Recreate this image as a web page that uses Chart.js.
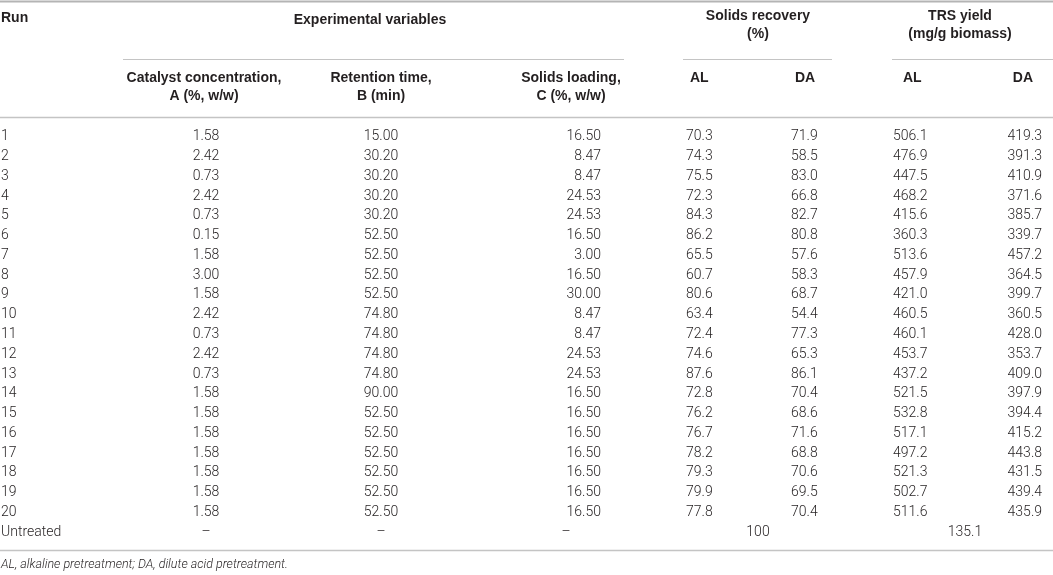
<!DOCTYPE html>
<html>
<head>
<meta charset="utf-8">
<script src="https://cdn.jsdelivr.net/npm/chart.js@4/dist/chart.umd.min.js"></script>
<style>
  html, body { margin: 0; padding: 0; background: #fff; }
  canvas { display: block; }
</style>
</head>
<body>
<canvas id="runsTable" width="1053" height="575"></canvas>
<script>
// table values, one array per column
const runs = ['1', '2', '3', '4', '5', '6', '7', '8', '9', '10', '11', '12', '13', '14', '15', '16', '17', '18', '19', '20', 'Untreated'];
const catalystConc = [1.58, 2.42, 0.73, 2.42, 0.73, 0.15, 1.58, 3.00, 1.58, 2.42, 0.73, 2.42, 0.73, 1.58, 1.58, 1.58, 1.58, 1.58, 1.58, 1.58];
const retentionTime = [15.00, 30.20, 30.20, 30.20, 30.20, 52.50, 52.50, 52.50, 52.50, 74.80, 74.80, 74.80, 74.80, 90.00, 52.50, 52.50, 52.50, 52.50, 52.50, 52.50];
const solidsLoading = [16.50, 8.47, 8.47, 24.53, 24.53, 16.50, 3.00, 16.50, 30.00, 8.47, 8.47, 24.53, 24.53, 16.50, 16.50, 16.50, 16.50, 16.50, 16.50, 16.50];
const recoveryAL = [70.3, 74.3, 75.5, 72.3, 84.3, 86.2, 65.5, 60.7, 80.6, 63.4, 72.4, 74.6, 87.6, 72.8, 76.2, 76.7, 78.2, 79.3, 79.9, 77.8];
const recoveryDA = [71.9, 58.5, 83.0, 66.8, 82.7, 80.8, 57.6, 58.3, 68.7, 54.4, 77.3, 65.3, 86.1, 70.4, 68.6, 71.6, 68.8, 70.6, 69.5, 70.4];
const trsAL = [506.1, 476.9, 447.5, 468.2, 415.6, 360.3, 513.6, 457.9, 421.0, 460.5, 460.1, 453.7, 437.2, 521.5, 532.8, 517.1, 497.2, 521.3, 502.7, 511.6];
const trsDA = [419.3, 391.3, 410.9, 371.6, 385.7, 339.7, 457.2, 364.5, 399.7, 360.5, 428.0, 353.7, 409.0, 397.9, 394.4, 415.2, 443.8, 431.5, 439.4, 435.9];
const untreatedRecovery = 100;
const untreatedTRS = 135.1;

const groupHeaders = [['Experimental variables'], ['Solids recovery', '(%)'], ['TRS yield', '(mg/g biomass)']];
const subHeaders = [['Catalyst concentration,', 'A (%, w/w)'], ['Retention time,', 'B (min)'], ['Solids loading,', 'C (%, w/w)'], ['AL'], ['DA'], ['AL'], ['DA']];
const footnote = 'AL, alkaline pretreatment; DA, dilute acid pretreatment.';

// layout (x positions on the linear x scale, which spans the page width)
const bodyFont = '300 14px Roboto, "Liberation Sans", sans-serif';
const boldFont = 'bold 14px "Liberation Sans", Arial, sans-serif';
const textColor = '#231f20';
const ruleColor = '#c4c4c4';

const columns = [
  { values: runs, at: 1, align: 'left', fmt: v => v },
  { values: catalystConc, at: 206, align: 'center', fmt: v => v.toFixed(2), blank: '–' },
  { values: retentionTime, at: 381, align: 'center', fmt: v => v.toFixed(2), blank: '–' },
  { values: solidsLoading, at: 601, align: 'right', fmt: v => v.toFixed(2), blank: '–', blankAt: 566 },
  { values: recoveryAL, at: 686, align: 'left', fmt: v => v.toFixed(1) },
  { values: recoveryDA, at: 791, align: 'left', fmt: v => v.toFixed(1) },
  { values: trsAL, at: 893, align: 'left', fmt: v => v.toFixed(1) },
  { values: trsDA, at: 1042, align: 'right', fmt: v => v.toFixed(1) }
];
const groupPos = [
  { at: 370, ys: [20], rule: [123, 624] },
  { at: 758, ys: [16, 34], rule: [683, 832] },
  { at: 960, ys: [16, 34], rule: [892, 1053] }
];
const subPos = [
  { at: 204, align: 'center' }, { at: 381, align: 'center' }, { at: 571, align: 'center' },
  { at: 690, align: 'left' }, { at: 795, align: 'left' }, { at: 903, align: 'left' }, { at: 1033, align: 'right' }
];

function hline(ctx, x0, x1, y, w, color) {
  ctx.save();
  ctx.strokeStyle = color;
  ctx.lineWidth = w;
  ctx.beginPath();
  ctx.moveTo(x0, y);
  ctx.lineTo(x1, y);
  ctx.stroke();
  ctx.restore();
}

function label(ctx, str, x, y, align, font) {
  ctx.font = font;
  ctx.textAlign = align;
  ctx.textBaseline = 'middle';
  ctx.fillStyle = textColor;
  ctx.fillText(str, x, y);
}

const tablePlugin = {
  id: 'tableText',
  afterDraw(chart) {
    const ctx = chart.ctx;
    const xs = chart.scales.x;
    const ys = chart.scales.y;
    const px = v => xs.getPixelForValue(v);
    const top = chart.chartArea.top;
    const bottom = chart.chartArea.bottom;

    // rules
    hline(ctx, px(0), px(1053), 1.5, 2, '#b4b4b4');
    groupPos.forEach(g => hline(ctx, px(g.rule[0]), px(g.rule[1]), 59.5, 1, ruleColor));
    hline(ctx, px(0), px(1053), top - 9.5, 1.5, ruleColor);
    hline(ctx, px(0), px(1053), bottom + 8.5, 1.5, ruleColor);

    // header
    label(ctx, 'Run', px(1), 18, 'left', boldFont);
    groupHeaders.forEach((lines, i) => {
      lines.forEach((s, j) => label(ctx, s, px(groupPos[i].at), groupPos[i].ys[j], 'center', boldFont));
    });
    subHeaders.forEach((lines, i) => {
      lines.forEach((s, j) => label(ctx, s, px(subPos[i].at), 78 + j * 18, subPos[i].align, boldFont));
    });

    // body
    const last = runs.length - 1;
    columns.forEach(col => {
      col.values.forEach((v, i) => {
        label(ctx, col.fmt(v), px(col.at), ys.getPixelForValue(i), col.align, bodyFont);
      });
      if (col.blank) {
        label(ctx, col.blank, px(col.blankAt || col.at), ys.getPixelForValue(last), 'center', bodyFont);
      }
    });
    label(ctx, String(untreatedRecovery), px(758), ys.getPixelForValue(last), 'center', bodyFont);
    label(ctx, String(untreatedTRS), px(965), ys.getPixelForValue(last), 'center', bodyFont);

    // footnote
    label(ctx, footnote, px(1), bottom + 23, 'left', 'italic 300 12.5px Roboto, "Liberation Sans", sans-serif');
  }
};

new Chart(document.getElementById('runsTable'), {
  type: 'bar',
  data: { labels: runs, datasets: [] },
  options: {
    indexAxis: 'y',
    responsive: false,
    animation: false,
    devicePixelRatio: 1,
    layout: { padding: { top: 127, bottom: 33, left: 0, right: 0 } },
    plugins: { legend: { display: false }, tooltip: { enabled: false } },
    scales: {
      x: { type: 'linear', min: 0, max: 1053, display: false },
      y: { type: 'category', offset: true, display: false }
    }
  },
  plugins: [tablePlugin]
});
</script>
</body>
</html>
